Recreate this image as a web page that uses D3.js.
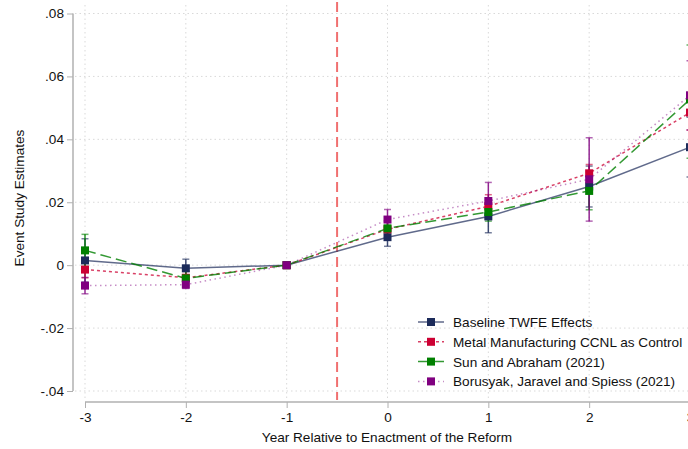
<!DOCTYPE html>
<html><head><meta charset="utf-8">
<script src="https://cdn.jsdelivr.net/npm/d3@7"></script>
<style>body{margin:0;background:#fff}svg{display:block;font-family:"Liberation Sans",Arial,sans-serif}</style>
</head><body><svg id="c" width="688" height="449"></svg>
<script>
const years = [-3,-2,-1,0,1,2,3];
const xTickLabels = ["-3","-2","-1","0","1","2","3"];
const yTicks = [-0.04,-0.02,0,0.02,0.04,0.06,0.08];
const yTickLabels = ["-.04","-.02","0",".02",".04",".06",".08"];
const seriesNames = ["Baseline TWFE Effects","Metal Manufacturing CCNL as Control","Sun and Abraham (2021)","Borusyak, Jaravel and Spiess (2021)"];
const baseline    = [0.0015,-0.0010,0,0.0089,0.0155,0.0250,0.0375];
const baselineLo  = [-0.0054,-0.0039,0,0.0060,0.0103,0.0185,0.0280];
const baselineHi  = [0.0084,0.0019,0,0.0118,0.0207,0.0315,0.0470];
const metal       = [-0.0014,-0.0040,0,0.0114,0.0187,0.0292,0.0485];
const metalLo     = [-0.0040,-0.0060,0,0.0090,0.0150,0.0245,0.0430];
const metalHi     = [0.0012,-0.0020,0,0.0138,0.0224,0.0320,0.0540];
const sunAbraham  = [0.0047,-0.0042,0,0.0117,0.0169,0.0236,0.0527];
const sunLo       = [-0.0004,-0.0065,0,0.0090,0.0140,0.0176,0.0340];
const sunHi       = [0.0098,-0.0019,0,0.0144,0.0198,0.0296,0.0700];
const borusyak    = [-0.0065,-0.0062,0,0.0145,0.0204,0.0273,0.0540];
const borLo       = [-0.0091,-0.0074,0,0.0113,0.0147,0.0140,0.0430];
const borHi       = [-0.0039,-0.0050,0,0.0177,0.0263,0.0405,0.0650];

const FS = 13.6;
const svg = d3.select("#c");
const x = d3.scaleLinear().domain([-3,3]).range([85,690]);
const y = d3.scaleLinear().domain([-0.04,0.08]).range([391,13.5]);

// gridlines
svg.append("g").selectAll("line").data(yTicks).join("line")
  .attr("x1",75).attr("x2",688).attr("y1",d=>y(d)).attr("y2",d=>y(d))
  .attr("stroke","#d9d9d9").attr("stroke-width",1).attr("stroke-dasharray","1.5,3");
svg.append("g").selectAll("line").data(years).join("line")
  .attr("x1",d=>x(d)).attr("x2",d=>x(d)).attr("y1",5).attr("y2",400)
  .attr("stroke","#d9d9d9").attr("stroke-width",1).attr("stroke-dasharray","1.5,3");

// axes
const yAxis = d3.axisLeft(y).tickValues(yTicks).tickFormat((d,i)=>yTickLabels[i]).tickSize(6).tickPadding(3);
const gy = svg.append("g").attr("transform","translate(73,0)").call(yAxis);
gy.select(".domain").attr("d",`M0,${y(0.08)}V${y(-0.04)}`).attr("stroke","#c4c4c4").attr("stroke-width",2);
gy.selectAll(".tick line").attr("stroke","#b0b0b0");
gy.selectAll(".tick text").attr("font-size",FS).attr("fill","#111").attr("font-family","Liberation Sans, Arial, sans-serif");

const xAxis = d3.axisBottom(x).tickValues(years).tickFormat((d,i)=>xTickLabels[i]).tickSize(6).tickPadding(4);
const gx = svg.append("g").attr("transform","translate(0,402)").call(xAxis);
gx.select(".domain").attr("d",`M${x(-3)},0H${x(3)}`).attr("stroke","#c4c4c4").attr("stroke-width",2);
gx.selectAll(".tick line").attr("stroke","#b0b0b0");
gx.selectAll(".tick text").attr("font-size",FS).attr("fill","#111").attr("font-family","Liberation Sans, Arial, sans-serif");

// reform line
svg.append("line").attr("x1",x(-0.5)).attr("x2",x(-0.5)).attr("y1",2).attr("y2",400)
  .attr("stroke","#f07070").attr("stroke-width",2).attr("stroke-dasharray","10,5");

const series = [
  {name:seriesNames[0], v:baseline, lo:baselineLo, hi:baselineHi, color:"#1c2b5a", dash:null, lop:0.7, lw:1.5},
  {name:seriesNames[1], v:metal, lo:metalLo, hi:metalHi, color:"#cc0033", dash:"3,3", lop:0.75, lw:1.5},
  {name:seriesNames[2], v:sunAbraham, lo:sunLo, hi:sunHi, color:"#008000", dash:"11,5", lop:0.8, lw:1.5},
  {name:seriesNames[3], v:borusyak, lo:borLo, hi:borHi, color:"#800080", dash:"1.5,3.5", lop:0.45, lw:1.5}
];

const line = d3.line().x((d,i)=>x(years[i])).y(d=>y(d));
const plot = svg.append("g");
series.forEach(s=>{
  plot.append("path").attr("d",line(s.v)).attr("fill","none").attr("stroke",s.color)
    .attr("stroke-opacity",s.lop).attr("stroke-width",s.lw).attr("stroke-dasharray",s.dash);
});
series.forEach(s=>{
  const g = plot.append("g");
  years.forEach((yr,i)=>{
    if (s.lo[i]===s.hi[i]) return;
    g.append("line").attr("x1",x(yr)).attr("x2",x(yr)).attr("y1",y(s.lo[i])).attr("y2",y(s.hi[i]))
      .attr("stroke",s.color).attr("stroke-width",1.5).attr("stroke-opacity",0.85);
    [s.lo[i],s.hi[i]].forEach(c=>g.append("line").attr("x1",x(yr)-3.5).attr("x2",x(yr)+3.5)
      .attr("y1",y(c)).attr("y2",y(c)).attr("stroke",s.color).attr("stroke-width",1.5).attr("stroke-opacity",0.6));
  });
});
series.forEach(s=>{
  plot.append("g").selectAll("rect").data(s.v).join("rect")
    .attr("x",(d,i)=>x(years[i])-4).attr("y",d=>y(d)-4).attr("width",8).attr("height",8)
    .attr("fill",s.color);
});

// legend
const leg = svg.append("g");
series.forEach((s,i)=>{
  const ly = 322 + i*19.8;
  leg.append("line").attr("x1",418).attr("x2",444).attr("y1",ly).attr("y2",ly)
    .attr("stroke",s.color).attr("stroke-opacity",s.lop).attr("stroke-width",1.5).attr("stroke-dasharray",s.dash);
  leg.append("rect").attr("x",427).attr("y",ly-4).attr("width",8).attr("height",8).attr("fill",s.color);
  leg.append("text").attr("x",453).attr("y",ly+5).attr("font-size",FS).attr("fill","#111").text(s.name);
});

// titles
svg.append("text").attr("x",387).attr("y",442).attr("text-anchor","middle").attr("font-size",FS).attr("fill","#111")
  .text("Year Relative to Enactment of the Reform");
svg.append("text").attr("transform","translate(24,198) rotate(-90)").attr("text-anchor","middle").attr("font-size",FS).attr("fill","#111")
  .text("Event Study Estimates");
</script></body></html>
